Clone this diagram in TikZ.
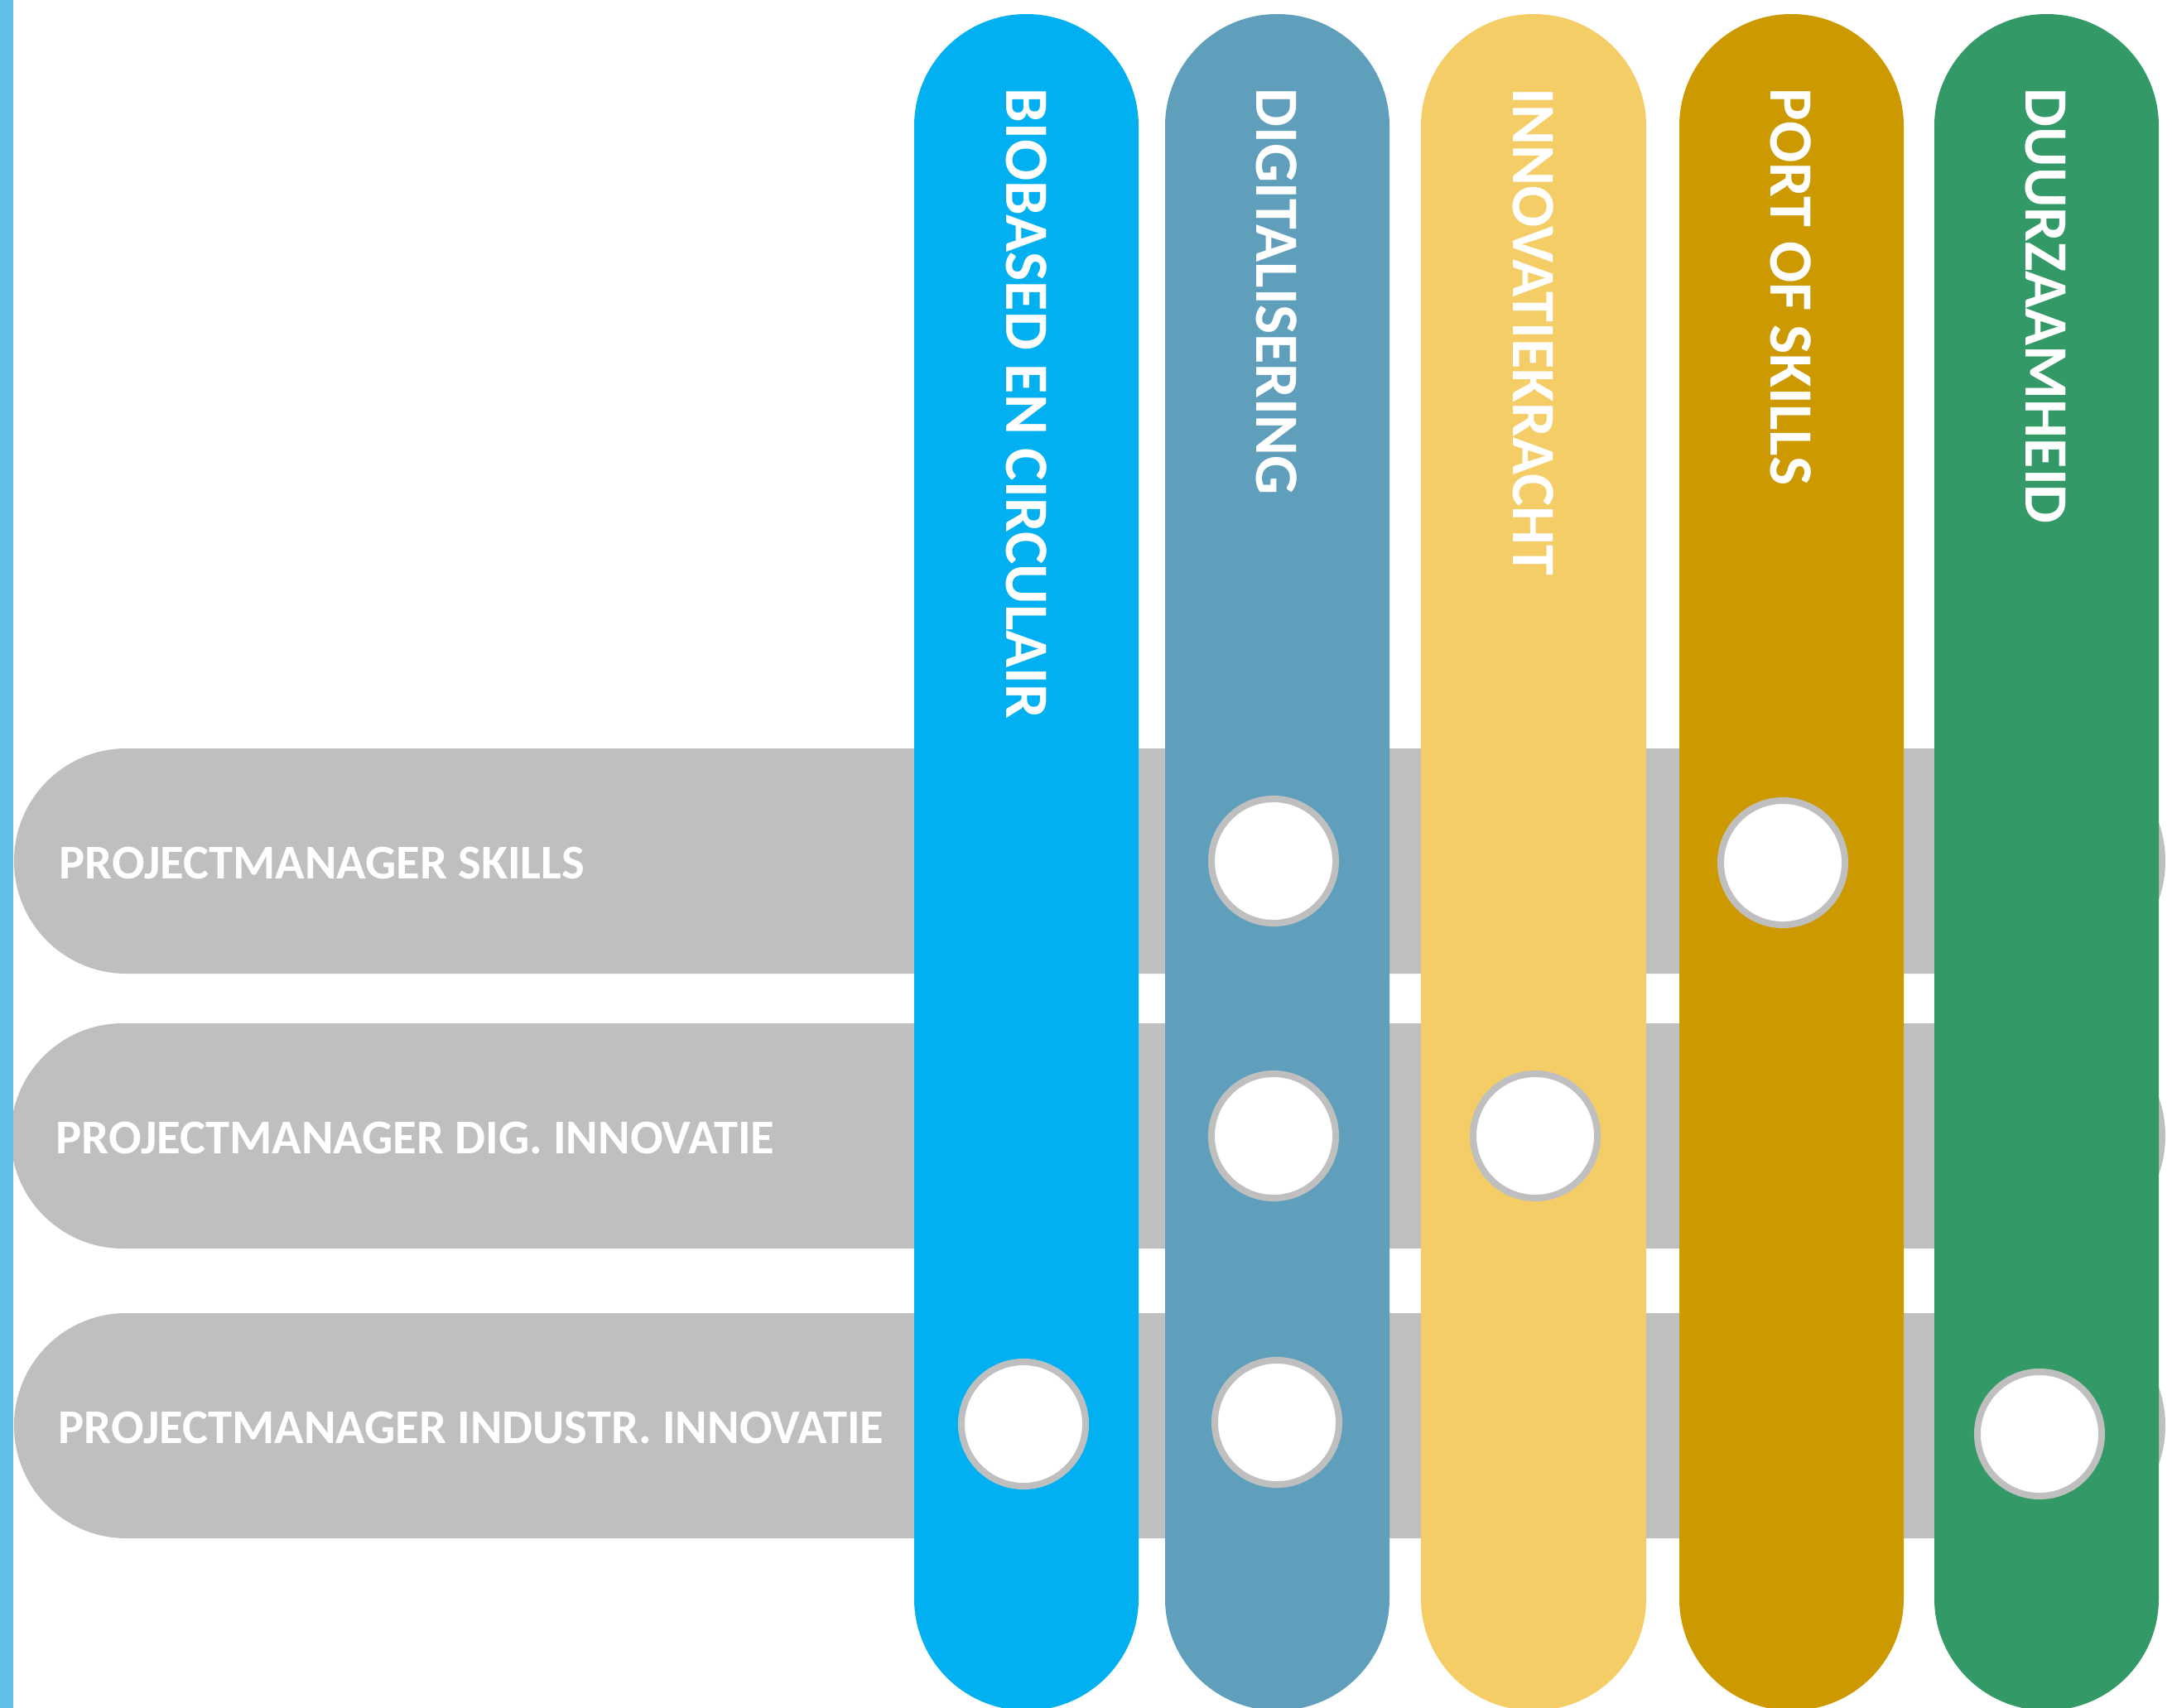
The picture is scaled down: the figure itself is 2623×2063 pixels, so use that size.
\documentclass[tikz,border=0pt]{standalone}
\usepackage{fontspec}
\setmainfont{Carlito}
\usepackage{xcolor}
\definecolor{rowgray}{HTML}{BFBFBF}
\definecolor{edgeblue}{HTML}{61BFE7}
\definecolor{biocol}{HTML}{00B0F0}
\definecolor{digicol}{HTML}{5F9FBC}
\definecolor{innocol}{HTML}{F4CD66}
\definecolor{portcol}{HTML}{CC9900}
\definecolor{duurcol}{HTML}{339966}
\tikzset{
	rowbar/.style={fill=rowgray, rounded corners=1.355cm},
	colbar/.style={rounded corners=1.35cm},
	coltext/.style={rotate=-90, anchor=base west, inner sep=0pt, text=white, font=\bfseries\fontsize{21.15}{21.15}\selectfont},
	rowtext/.style={anchor=base west, inner sep=0pt, text=white, font=\bfseries\fontsize{16.65}{16.65}\selectfont},
	dot/.style={draw=rowgray, fill=white, line width=0.08cm}
}
\begin{document}
\begin{tikzpicture}[x=0.01cm, y=-0.01cm]
		\useasboundingbox (0,0) rectangle (2623,2063);
		% rows
		\fill[rowbar] (17,904) rectangle (2615,1176);
		\fill[rowbar] (13,1236) rectangle (2615,1508);
		\fill[rowbar] (17,1586) rectangle (2615,1858);
		% columns
		\fill[colbar, biocol] (1104,17) rectangle (1375,2066);
		\fill[colbar, digicol] (1407,17) rectangle (1678,2066);
		\fill[colbar, innocol] (1716,17) rectangle (1988,2066);
		\fill[colbar, portcol] (2028,17) rectangle (2299,2066);
		\fill[colbar, duurcol] (2336,17) rectangle (2607,2066);
		\fill[edgeblue] (0,0) rectangle (16,2063);
		\node[coltext] (bio) at (1215,106) {BIOBASED EN CIRCULAIR};
		\node[coltext] (digi) at (1517,106) {DIGITALISERING};
		\node[coltext] (inno) at (1827,106) {INNOVATIEKRACHT};
		\node[coltext] (port) at (2138,106) {PORT OF SKILLS};
		\node[coltext] (duur) at (2446,106) {DUURZAAMHEID};
		\node[rowtext] (skills) at (71,1061) {PROJECTMANAGER SKILLS};
		\node[rowtext] (diginno) at (67,1393) {PROJECTMANAGER DIG. INNOVATIE};
		\node[rowtext] (indinno) at (70,1743) {PROJECTMANAGER INDUSTR. INNOVATIE};
		% dots
		\draw[dot] (1538,1040) circle [radius=0.75cm];
		\draw[dot] (2153,1042) circle [radius=0.75cm];
		\draw[dot] (1538,1372) circle [radius=0.75cm];
		\draw[dot] (1854,1372) circle [radius=0.75cm];
		\draw[dot] (1236,1720) circle [radius=0.75cm];
		\draw[dot] (1542,1718) circle [radius=0.75cm];
		\draw[dot] (2463,1732) circle [radius=0.75cm];
	\end{tikzpicture}
\end{document}
